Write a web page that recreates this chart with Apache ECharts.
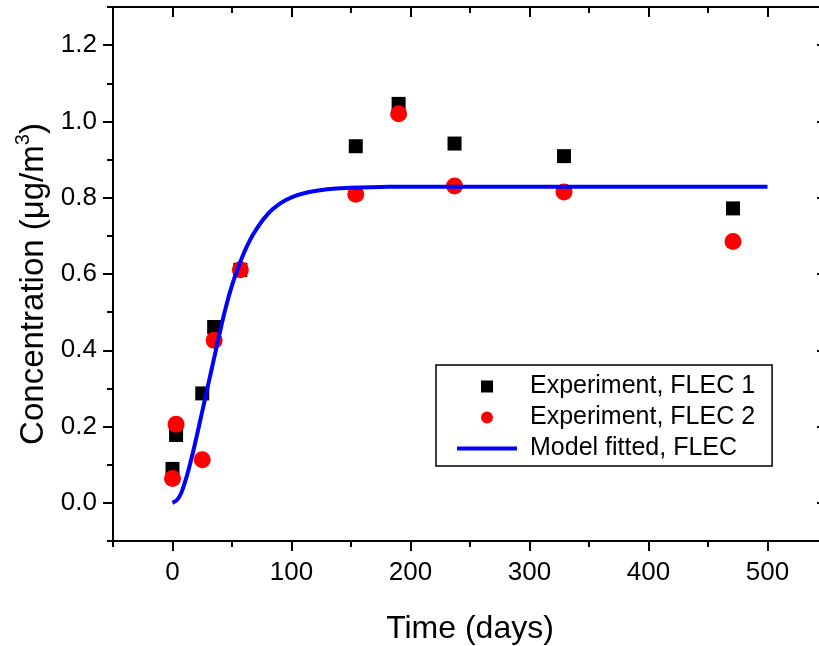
<!DOCTYPE html>
<html>
<head>
<meta charset="utf-8">
<script src="https://cdn.jsdelivr.net/npm/echarts@6/dist/echarts.min.js"></script>
<style>
html,body{margin:0;padding:0;background:#fff;}
#chart{width:819px;height:646px;}
</style>
</head>
<body>
<div id="chart"></div>
<script>
// ---- data ----
const flec1Days = [0, 3, 25, 35, 57, 154, 190, 237, 329, 471];
const flec1Conc = [0.089, 0.178, 0.287, 0.461, 0.611, 0.935, 1.046, 0.942, 0.909, 0.772];
const flec2Days = [0, 3, 25, 35, 57, 154, 190, 237, 329, 471];
const flec2Conc = [0.064, 0.206, 0.113, 0.426, 0.611, 0.809, 1.020, 0.831, 0.815, 0.685];
const modelDays = [0, 5, 10, 15, 20, 25, 30, 35, 40, 45, 50, 55, 60, 65, 70, 80, 90, 100, 115, 130, 150, 175, 200, 300, 400, 500];
const modelConc = [0, 0.012, 0.05, 0.105, 0.17, 0.24, 0.31, 0.38, 0.45, 0.515, 0.57, 0.615, 0.655, 0.688, 0.715, 0.757, 0.784, 0.801, 0.815, 0.822, 0.826, 0.828, 0.829, 0.829, 0.829, 0.829];

const xTicks = [0, 100, 200, 300, 400, 500];
const xMinorTicks = [-50, 50, 150, 250, 350, 450, 550];
const yTicks = [0.0, 0.2, 0.4, 0.6, 0.8, 1.0, 1.2];
const yMinorTicks = [-0.1, 0.1, 0.3, 0.5, 0.7, 0.9, 1.1, 1.3];

const seriesNames = ['Experiment, FLEC 1', 'Experiment, FLEC 2', 'Model fitted, FLEC'];
const xTitle = 'Time (days)';
const yTitle = 'Concentration (μg/m{sup|3})';

const FONT = '"Liberation Sans", Arial, sans-serif';
const X_MIN = -50, X_MAX = 550, Y_MIN = -0.1, Y_MAX = 1.3;

function pairs(xs, ys) { return xs.map((x, i) => [x, ys[i]]); }

function axisLineSt(show) { return { show: show, onZero: false, lineStyle: { color: '#000', width: 2 } }; }

function xAxisDef(grid, pos, ticks, len, inside, labels, name, showLine) {
  return {
    type: 'value', gridIndex: grid, position: pos, min: X_MIN, max: X_MAX,
    axisLine: axisLineSt(showLine),
    axisTick: { show: true, customValues: ticks, length: len, inside: inside, lineStyle: { color: '#000', width: 2 } },
    axisLabel: labels ? { show: true, customValues: xTicks, fontSize: 26, color: '#000', fontFamily: FONT, margin: 19 } : { show: false },
    splitLine: { show: false },
    name: name || '',
    nameLocation: 'middle', nameGap: 72,
    nameTextStyle: { fontSize: 32, color: '#000', fontFamily: FONT }
  };
}
function yAxisDef(grid, pos, ticks, len, inside, labels, name, showLine) {
  return {
    type: 'value', gridIndex: grid, position: pos, min: Y_MIN, max: Y_MAX,
    axisLine: axisLineSt(showLine),
    axisTick: { show: true, customValues: ticks, length: len, inside: inside, lineStyle: { color: '#000', width: 2 } },
    axisLabel: labels ? { show: true, customValues: yTicks, fontSize: 26, color: '#000', fontFamily: FONT, margin: 16,
      formatter: v => Number(v).toFixed(1) } : { show: false },
    splitLine: { show: false },
    name: name || '',
    nameLocation: 'middle', nameGap: 46,
    nameTextStyle: { fontSize: 33, color: '#000', fontFamily: FONT, padding: [0, 20, 0, 0],
      rich: { sup: { fontSize: 20, color: '#000', fontFamily: FONT, padding: [0, 0, 20, 0] } } }
  };
}

const gridRect = { left: 113, top: 7, width: 714, height: 534, containLabel: false, outerBoundsMode: 'none' };

const chart = echarts.init(document.getElementById('chart'), null, { renderer: 'canvas' });
chart.setOption({
  backgroundColor: '#fff',
  animation: false,
  grid: [Object.assign({}, gridRect), Object.assign({}, gridRect)],
  xAxis: [
    xAxisDef(0, 'bottom', xTicks, 10, false, true, xTitle, true),
    xAxisDef(0, 'top', xTicks, 10, true, false, '', true),
    xAxisDef(1, 'bottom', xMinorTicks, 6, false, false, '', false),
    xAxisDef(1, 'top', xMinorTicks, 6, true, false, '', false)
  ],
  yAxis: [
    yAxisDef(0, 'left', yTicks, 10, false, true, yTitle, true),
    yAxisDef(0, 'right', yTicks, 10, true, false, '', true),
    yAxisDef(1, 'left', yMinorTicks, 6, false, false, '', false),
    yAxisDef(1, 'right', yMinorTicks, 6, true, false, '', false)
  ],
  legend: {
    orient: 'vertical', left: 436, top: 365,
    padding: [9, 17, 5, 21], itemGap: 6,
    itemWidth: 60, itemHeight: 12,
    borderColor: '#000', borderWidth: 1.5, backgroundColor: '#fff',
    textStyle: { fontSize: 25, color: '#000', fontFamily: FONT, padding: [0, 0, 0, 8] },
    data: [
      { name: seriesNames[0], icon: 'path://M0,0H10V10H0Z' },
      { name: seriesNames[1], icon: 'circle' },
      { name: seriesNames[2], icon: 'path://M0,0H60V4H0Z' }
    ]
  },
  series: [
    { name: seriesNames[0], type: 'scatter', xAxisIndex: 0, yAxisIndex: 0, symbol: 'rect', symbolSize: 14,
      itemStyle: { color: '#000', opacity: 1 }, data: pairs(flec1Days, flec1Conc) },
    { name: seriesNames[1], type: 'scatter', xAxisIndex: 0, yAxisIndex: 0, symbol: 'circle', symbolSize: 17,
      itemStyle: { color: '#ff0000', opacity: 1 }, data: pairs(flec2Days, flec2Conc) },
    { name: seriesNames[2], type: 'line', xAxisIndex: 0, yAxisIndex: 0, symbol: 'none', smooth: 0.5,
      lineStyle: { color: '#0000ff', width: 4 }, itemStyle: { color: '#0000ff' },
      data: pairs(modelDays, modelConc) }
  ]
});
</script>
</body>
</html>
